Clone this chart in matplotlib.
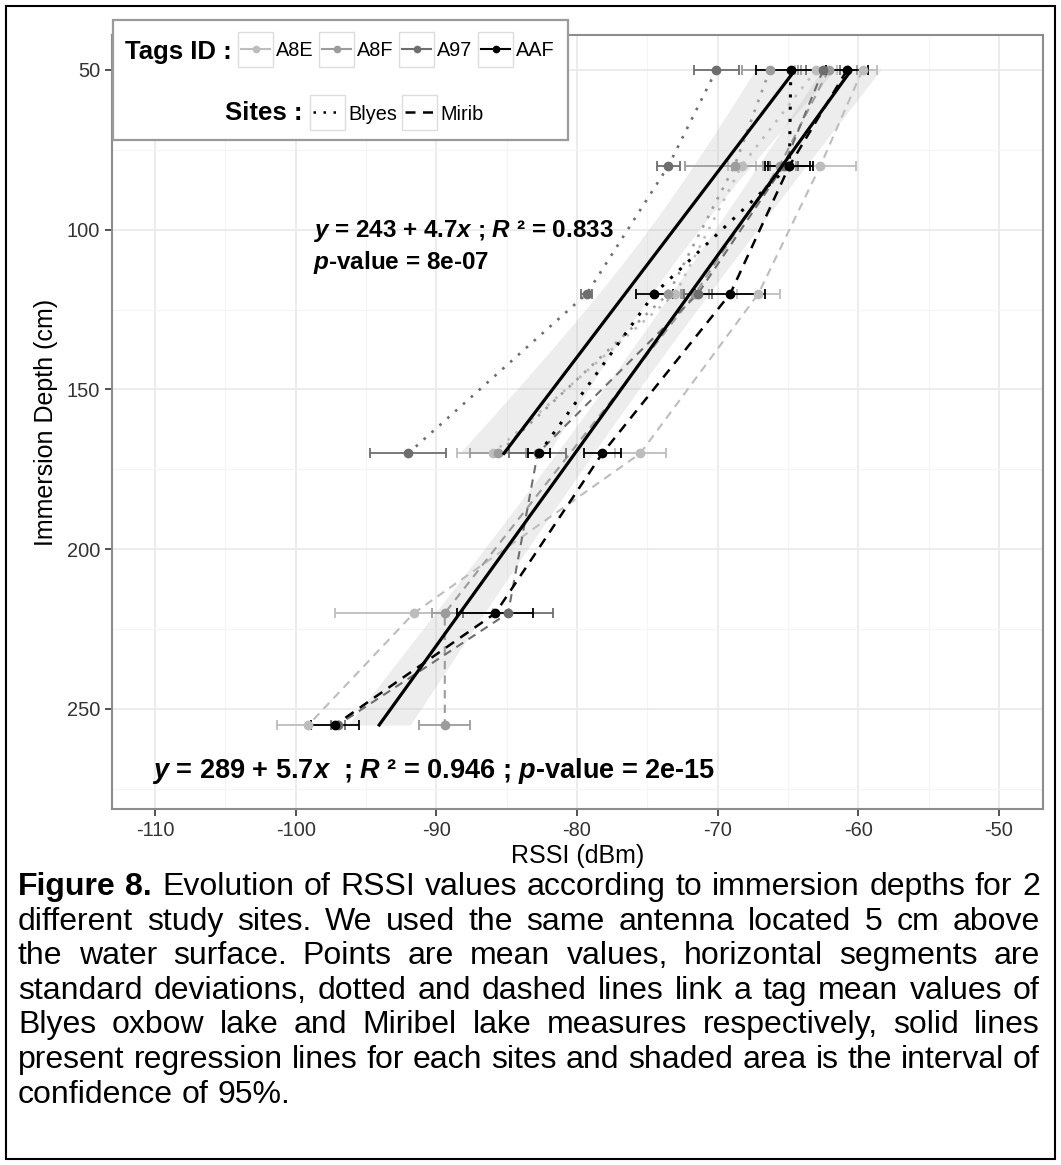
import numpy as np
import matplotlib
matplotlib.use("Agg")
import matplotlib.pyplot as plt
from matplotlib.lines import Line2D
from matplotlib.patches import Rectangle

plt.rcParams["font.family"] = ["Liberation Sans", "DejaVu Sans"]
plt.rcParams["mathtext.fontset"] = "custom"
plt.rcParams["mathtext.it"] = "Liberation Sans:italic:bold"
plt.rcParams["mathtext.rm"] = "Liberation Sans:bold"
plt.rcParams["axes.unicode_minus"] = False

# ---- data ----
tags = ["A8E", "A8F", "A97", "AAF"]
tag_colors = ["#bdbdbd", "#9c9c9c", "#6e6e6e", "#000000"]

depth_blyes = [50, 80, 120, 170]
depth_mirib = [50, 80, 120, 170, 220, 255]

blyes_A8E = [-63.0, -68.3, -73.0, -86.0]
blyes_A8F = [-66.3, -68.8, -73.5, -85.6]
blyes_A97 = [-70.1, -73.5, -79.3, -92.0]
blyes_AAF = [-64.8, -64.9, -74.5, -82.7]
blyes_sd_A8E = [1.5, 1.0, 0.5, 2.5]
blyes_sd_A8F = [2.0, 3.5, 1.0, 2.0]
blyes_sd_A97 = [1.6, 0.8, 0.4, 2.7]
blyes_sd_AAF = [2.5, 1.5, 1.3, 0.8]

mirib_A8E = [-59.7, -62.7, -67.1, -75.5, -91.6, -99.1]
mirib_A8F = [-62.1, -65.6, -71.6, np.nan, -89.4, -89.4]
mirib_A97 = [-62.5, -65.3, -71.4, -82.8, -84.9, -97.0]
mirib_AAF = [-60.8, -64.9, -69.1, -78.2, -85.8, -97.2]
mirib_sd_A8E = [1.0, 2.5, 1.5, 1.8, 5.6, 2.2]
mirib_sd_A8F = [2.0, 1.2, 1.0, np.nan, 0.9, 1.8]
mirib_sd_A97 = [1.2, 1.0, 1.0, 2.0, 3.2, 0.5]
mirib_sd_AAF = [1.5, 1.7, 2.5, 1.3, 2.7, 1.7]

# regression lines (RSSI = a + b * depth)
fit_blyes = (-55.87, -0.1725)
fit_mirib = (-52.32, -0.1637)

txt_blyes_1 = r"$y$ = 243 + 4.7$x$ ; $R$ ² = 0.833"
txt_blyes_2 = r"$p$-value = 8e-07"
txt_mirib = r"$y$ = 289 + 5.7$x$  ; $R$ ² = 0.946 ; $p$-value = 2e-15"

blyes_mean = [blyes_A8E, blyes_A8F, blyes_A97, blyes_AAF]
blyes_sd = [blyes_sd_A8E, blyes_sd_A8F, blyes_sd_A97, blyes_sd_AAF]
mirib_mean = [mirib_A8E, mirib_A8F, mirib_A97, mirib_AAF]
mirib_sd = [mirib_sd_A8E, mirib_sd_A8F, mirib_sd_A97, mirib_sd_AAF]

W, H = 1061, 1165
fig = plt.figure(figsize=(W / 100, H / 100), dpi=100)


def fx(px):
    return px / W


def fy(py):
    return 1 - py / H


ax = fig.add_axes([fx(112), fy(809), (1043 - 112) / W, (809 - 35) / H])


def band(ax, depths, means, fit):
    d = []
    v = []
    for m in means:
        for dd, vv in zip(depths, m):
            if not np.isnan(vv):
                d.append(dd)
                v.append(vv)
    d = np.array(d, float)
    v = np.array(v, float)
    a, b = fit
    res = v - (a + b * d)
    n = len(d)
    s = np.sqrt(np.sum(res ** 2) / (n - 2))
    sxx = np.sum((d - d.mean()) ** 2)
    dd = np.linspace(min(depths), max(depths), 100)
    se = s * np.sqrt(1 / n + (dd - d.mean()) ** 2 / sxx)
    yy = a + b * dd
    ax.fill_betweenx(dd, yy - 2.1 * se, yy + 2.1 * se, color="#a8a8a8",
                     alpha=0.2, lw=0, zorder=1)
    ax.plot([a + b * dd[0], a + b * dd[-1]], [dd[0], dd[-1]], color="black",
            lw=2.3, zorder=5)


band(ax, depth_blyes, blyes_mean, fit_blyes)
band(ax, depth_mirib, mirib_mean, fit_mirib)

for i, tag in enumerate(tags):
    c = tag_colors[i]
    lw = 1.8 if c == "#000000" else 1.5
    ax.plot(blyes_mean[i], depth_blyes, ls=(0, (1, 3)), color=c, lw=lw + 0.4, zorder=3)
    m = np.array(mirib_mean[i])
    ok = ~np.isnan(m)
    ax.plot(m[ok], np.array(depth_mirib)[ok], ls=(0, (4, 3)), color=c, lw=lw, zorder=3)
    ax.errorbar(blyes_mean[i], depth_blyes, xerr=blyes_sd[i], fmt="o", color=c,
                ms=6, elinewidth=1.3, capsize=3.5, capthick=1.3, zorder=4)
    ax.errorbar(m[ok], np.array(depth_mirib)[ok], xerr=np.array(mirib_sd[i])[ok],
                fmt="o", color=c, ms=6, elinewidth=1.3, capsize=3.5, capthick=1.3,
                zorder=4)

ax.text(-98.8, 100.3, txt_blyes_1, fontsize=17.5, fontweight="bold", va="center")
ax.text(-98.8, 110.2, txt_blyes_2, fontsize=17.5, fontweight="bold", va="center")
ax.text(-110.2, 269.4, txt_mirib, fontsize=19.5, fontweight="bold", va="center")

ax.set_xlim(-113.06, -46.87)
ax.set_ylim(281.3, 39.05)
ax.set_xticks(np.arange(-110, -49, 10))
ax.set_yticks(np.arange(50, 251, 50))
ax.set_xticks(np.arange(-105, -46, 10), minor=True)
ax.set_yticks(np.arange(75, 281, 50), minor=True)
ax.grid(True, which="major", color="#ebebeb", lw=1.3, zorder=0)
ax.grid(True, which="minor", color="#f5f5f5", lw=0.8, zorder=0)
ax.set_axisbelow(True)
ax.tick_params(which="major", labelsize=14.4, labelcolor="#333333", color="#333333",
               length=5, width=1.2)
ax.tick_params(which="minor", length=0)
for sp in ax.spines.values():
    sp.set_color("#8c8c8c")
    sp.set_linewidth(1.5)
ax.set_xlabel("RSSI (dBm)", fontsize=18, labelpad=3)
ax.set_ylabel("Immersion Depth (cm)", fontsize=18, labelpad=6)

# ---- legend (inside, top-left) ----
fig.add_artist(Rectangle((fx(113), fy(140)), (568 - 113) / W, (140 - 20) / H,
                         transform=fig.transFigure, facecolor="white",
                         edgecolor="#9a9a9a", lw=1.6, zorder=10))
fig.text(fx(125), fy(52), "Tags ID :", fontsize=18.5, fontweight="bold",
         va="center", zorder=11)
key_x = [238, 319, 399, 478]
for i, tag in enumerate(tags):
    x0 = key_x[i]
    fig.add_artist(Rectangle((fx(x0), fy(67)), 35 / W, 35 / H,
                             transform=fig.transFigure, facecolor="white",
                             edgecolor="#dddddd", lw=1, zorder=11))
    fig.add_artist(Line2D([fx(x0 + 3), fx(x0 + 32)], [fy(49), fy(49)],
                          transform=fig.transFigure, color=tag_colors[i], lw=1.5,
                          zorder=12))
    fig.add_artist(Line2D([fx(x0 + 17.5)], [fy(49)], transform=fig.transFigure,
                          marker="o", ms=4.5, color=tag_colors[i], zorder=12))
    fig.text(fx(x0 + 38), fy(51), tag, fontsize=14.3, va="center", zorder=12)

fig.text(fx(225), fy(113), "Sites :", fontsize=18.5, fontweight="bold",
         va="center", zorder=11)
sites = ["Blyes", "Mirib"]
site_ls = [(0, (1, 3)), (0, (4, 3))]
site_x = [310, 402]
for i, s in enumerate(sites):
    x0 = site_x[i]
    fig.add_artist(Rectangle((fx(x0), fy(130)), 35 / W, 35 / H,
                             transform=fig.transFigure, facecolor="white",
                             edgecolor="#dddddd", lw=1, zorder=11))
    fig.add_artist(Line2D([fx(x0 + 3), fx(x0 + 32)], [fy(112), fy(112)],
                          transform=fig.transFigure, color="black", lw=1.8,
                          ls=site_ls[i], zorder=12))
    fig.text(fx(x0 + 38), fy(114), s, fontsize=14.3, va="center", zorder=12)

# ---- caption (justified) ----
caption = [
    "Figure 8. Evolution of RSSI values according to immersion depths for 2",
    "different study sites. We used the same antenna located 5 cm above",
    "the water surface. Points are mean values, horizontal segments are",
    "standard deviations, dotted and dashed lines link a tag mean values of",
    "Blyes oxbow lake and Miribel lake measures respectively, solid lines",
    "present regression lines for each sites and shaded area is the interval of",
    "confidence of 95%.",
]
renderer = fig.canvas.get_renderer()
left, right = 18, 1040
trial = 17.5
lines = []
for k, line in enumerate(caption):
    texts = []
    for j, w in enumerate(line.split(" ")):
        bold = (k == 0 and j < 2)
        texts.append(fig.text(0, 0, w, fontsize=trial,
                              fontweight="bold" if bold else "normal",
                              va="baseline"))
    lines.append(texts)
probe = fig.text(0, 0, "x x", fontsize=trial)
probe2 = fig.text(0, 0, "xx", fontsize=trial)
space = probe.get_window_extent(renderer).width - probe2.get_window_extent(renderer).width
probe.remove()
probe2.remove()
natural = [sum(t.get_window_extent(renderer).width for t in tl) + space * (len(tl) - 1)
           for tl in lines[:-1]]
fs = trial * (right - left - 4) / max(natural)

for k, texts in enumerate(lines):
    base = 895 + k * 34.6
    for t in texts:
        t.set_fontsize(fs)
        t.set_y(fy(base))
    widths = [t.get_window_extent(renderer).width for t in texts]
    if k == len(lines) - 1:
        gap = space * fs / trial
    else:
        gap = (right - left - sum(widths)) / (len(texts) - 1)
    x = left
    for t, w in zip(texts, widths):
        t.set_x(fx(x))
        x += w + gap

fig.add_artist(Rectangle((fx(6), fy(1159)), (1055 - 6) / W, (1159 - 6) / H,
                         transform=fig.transFigure, facecolor="none",
                         edgecolor="black", lw=1.5))

fig.savefig("out.png", dpi=100)
